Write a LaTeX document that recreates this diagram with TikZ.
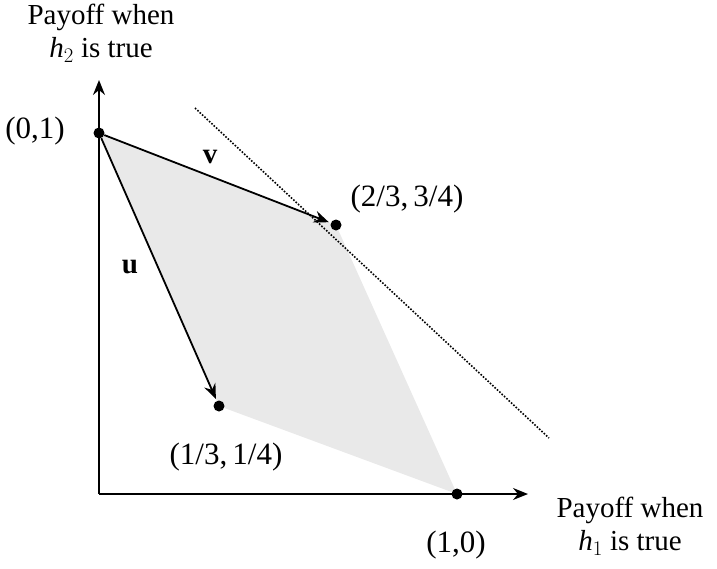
\documentclass[tikz,border=0pt]{standalone}
\usepackage{fontspec}
\setmainfont{Liberation Serif}
\usetikzlibrary{arrows.meta}
\begin{document}
\begin{tikzpicture}[x=1pt,y=-1pt,
  txt/.style={font=\fontsize{29}{33}\selectfont, inner sep=0pt},
  ctxt/.style={font=\fontsize{31}{33}\selectfont, inner sep=0pt},
  dotpt/.style={circle, fill=black, inner sep=0pt, minimum size=11pt},
  arr/.style={line width=1.8pt, -{Stealth[length=15pt,width=12pt,inset=5pt]}},
  ln/.style={line width=1.8pt}]
\useasboundingbox (0,0) rectangle (717,568);
\coordinate (O) at (99,494);
\coordinate (A) at (99,133);
\coordinate (B) at (336,225);
\coordinate (C) at (219,406);
\coordinate (D) at (457,494);
\coordinate (ytip) at (99,80);
\coordinate (xtip) at (528,494);
\coordinate (d1) at (195,108);
\coordinate (d2) at (549,438);
\fill[gray!17] (A) -- (B) -- (D) -- (C) -- cycle;
\draw[ln] (A) -- (O);
\draw[arr] (A) -- (ytip);
\draw[ln] (O) -- (D);
\draw[arr] (D) -- (xtip);
\draw[line width=1.6pt, dash pattern=on 1.6pt off 1.6pt] (d1) -- (d2);
\node[dotpt] (a) at (A) {};
\node[dotpt] (b) at (B) {};
\node[dotpt] (c) at (C) {};
\node[dotpt] (d) at (D) {};
\draw[arr, shorten >=2pt] (a) -- (b);
\draw[arr, shorten >=2pt] (a) -- (c);
\node[txt] (lv) at (210,157) {$\mathbf{v}$};
\node[txt] (lu) at (130,267) {$\mathbf{u}$};
\node[ctxt] (la) at (35,131) {(0,1)};
\node[ctxt] (lb) at (407,199) {(2/3,\,3/4)};
\node[ctxt] (lc) at (226,457) {(1/3,\,1/4)};
\node[ctxt] (ld) at (456,545) {(1,0)};
\node[txt, align=center] (ly) at (101,33) {Payoff when\\\textit{h}$_2$ is true};
\node[txt, align=center] (lx) at (630,526) {Payoff when\\\textit{h}$_1$ is true};
\end{tikzpicture}
\end{document}
